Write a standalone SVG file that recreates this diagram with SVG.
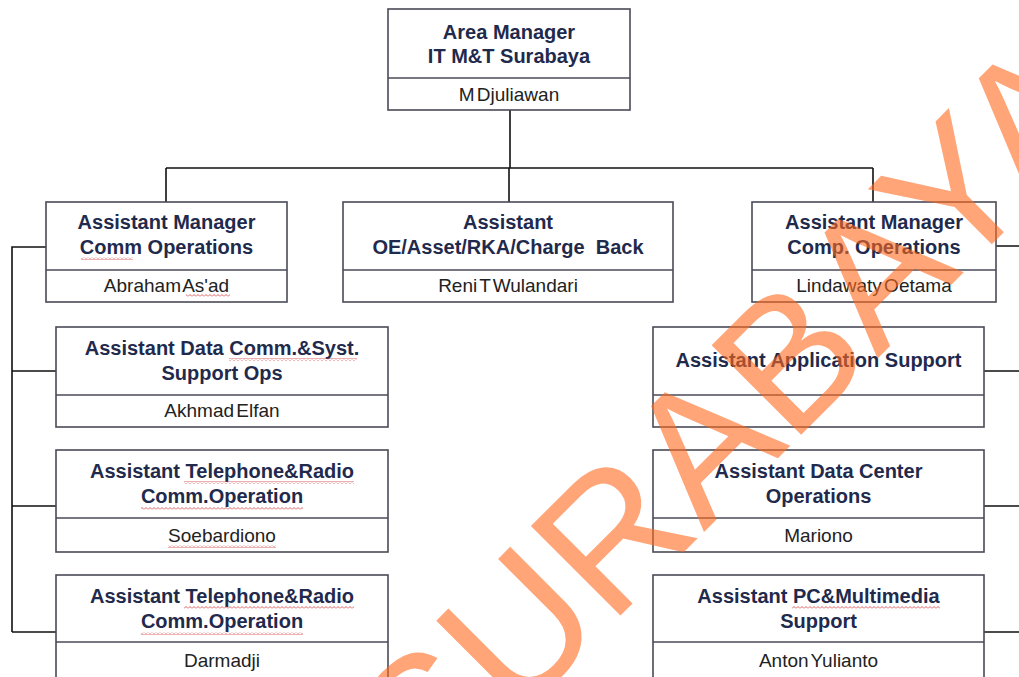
<svg xmlns="http://www.w3.org/2000/svg" width="1019" height="677" viewBox="0 0 1019 677">
<defs>
<pattern id="sq" width="4" height="3" patternUnits="userSpaceOnUse">
<path d="M0,2.5 L2,0.5 L4,2.5" fill="none" stroke="#d23a3a" stroke-width="0.8"/>
</pattern>
</defs>
<style>
.box{fill:#ffffff;stroke:#4a4a58;stroke-width:1.6}
.div{stroke:#4a4a58;stroke-width:1.6;fill:none}
.t{font-family:"Liberation Sans",Arial,sans-serif;font-weight:bold;font-size:20px;fill:#1f2a4c;text-anchor:middle}
.n{font-family:"Liberation Sans",Arial,sans-serif;font-size:19px;fill:#222222;text-anchor:middle;word-spacing:-3px}
.c{stroke:#111111;stroke-width:1.6;fill:none}
.sq{fill:url(#sq)}
.wm{font-family:"Liberation Sans",Arial,sans-serif;font-size:184px;fill:#ff6a1e;opacity:0.6}
</style>
<rect width="1019" height="677" fill="#ffffff"/>
<g id="connectors">
<path class="c" d="M510,110 V168 M166,168 H873 M166,168 V202 M509,168 V202 M873,168 V202"/>
<path class="c" d="M46,247 H12 V632 M12,371 H56 M12,506 H56 M12,632 H56"/>
<path class="c" d="M996,246 H1019 M984,371 H1019 M984,506 H1019 M984,632 H1019"/>
</g>
<g id="area-manager">
<rect class="box" x="388" y="9" width="242" height="101"/>
<line class="div" x1="388" y1="78" x2="630" y2="78"/>
<text class="t" x="509" y="39">Area Manager</text>
<text class="t" x="509" y="63">IT M&amp;T Surabaya</text>
<text class="n" x="509" y="101">M Djuliawan</text>
</g>
<g id="am-comm-ops">
<rect class="box" x="46" y="202" width="241" height="100"/>
<line class="div" x1="46" y1="270" x2="287" y2="270"/>
<text class="t" x="166.5" y="229">Assistant Manager</text>
<text class="t" x="166.5" y="254">Comm Operations</text>
<text class="n" x="166.5" y="292">Abraham As'ad</text>
<rect class="sq" x="81" y="257" width="52" height="3"/>
<rect class="sq" x="186" y="294" width="44" height="3"/>
</g>
<g id="asst-oe">
<rect class="box" x="343" y="202" width="330" height="100"/>
<line class="div" x1="343" y1="270" x2="673" y2="270"/>
<text class="t" x="508" y="229">Assistant</text>
<text class="t" x="508" y="254" xml:space="preserve">OE/Asset/RKA/Charge  Back</text>
<text class="n" x="508" y="292">Reni T Wulandari</text>
</g>
<g id="am-comp-ops">
<rect class="box" x="752" y="202" width="244" height="100"/>
<line class="div" x1="752" y1="270" x2="996" y2="270"/>
<text class="t" x="874" y="229">Assistant Manager</text>
<text class="t" x="874" y="254">Comp. Operations</text>
<text class="n" x="874" y="292">Lindawaty Oetama</text>
</g>
<g id="asst-data-comm">
<rect class="box" x="56" y="327" width="332" height="100"/>
<line class="div" x1="56" y1="395" x2="388" y2="395"/>
<text class="t" x="222" y="355">Assistant Data Comm.&amp;Syst.</text>
<text class="t" x="222" y="380">Support Ops</text>
<text class="n" x="222" y="417">Akhmad Elfan</text>
<rect class="sq" x="229" y="358" width="128" height="3"/>
</g>
<g id="asst-tel-radio-1">
<rect class="box" x="56" y="450" width="332" height="102"/>
<line class="div" x1="56" y1="518" x2="388" y2="518"/>
<text class="t" x="222" y="478">Assistant Telephone&amp;Radio</text>
<text class="t" x="222" y="503">Comm.Operation</text>
<text class="n" x="222" y="542">Soebardiono</text>
<rect class="sq" x="184" y="481" width="170" height="3"/>
<rect class="sq" x="141" y="507" width="162" height="3"/>
<rect class="sq" x="168" y="545" width="108" height="3"/>
</g>
<g id="asst-tel-radio-2">
<rect class="box" x="56" y="575" width="332" height="120"/>
<line class="div" x1="56" y1="642" x2="388" y2="642"/>
<text class="t" x="222" y="603">Assistant Telephone&amp;Radio</text>
<text class="t" x="222" y="628">Comm.Operation</text>
<text class="n" x="222" y="667">Darmadji</text>
<rect class="sq" x="184" y="606" width="170" height="3"/>
<rect class="sq" x="141" y="632" width="162" height="3"/>
</g>
<g id="asst-app-support">
<rect class="box" x="653" y="327" width="331" height="100"/>
<line class="div" x1="653" y1="395" x2="984" y2="395"/>
<text class="t" x="818.5" y="367">Assistant Application Support</text>
</g>
<g id="asst-data-center">
<rect class="box" x="653" y="450" width="331" height="102"/>
<line class="div" x1="653" y1="518" x2="984" y2="518"/>
<text class="t" x="818.5" y="478">Assistant Data Center</text>
<text class="t" x="818.5" y="503">Operations</text>
<text class="n" x="818.5" y="542">Mariono</text>
</g>
<g id="asst-pc-multimedia">
<rect class="box" x="653" y="575" width="331" height="120"/>
<line class="div" x1="653" y1="642" x2="984" y2="642"/>
<text class="t" x="818.5" y="603">Assistant PC&amp;Multimedia</text>
<text class="t" x="818.5" y="628">Support</text>
<text class="n" x="818.5" y="667">Anton Yulianto</text>
<rect class="sq" x="792" y="606" width="148" height="3"/>
</g>
<text class="wm" x="429" y="807" transform="rotate(-45 429 807)">SURABAYA</text>
</svg>
